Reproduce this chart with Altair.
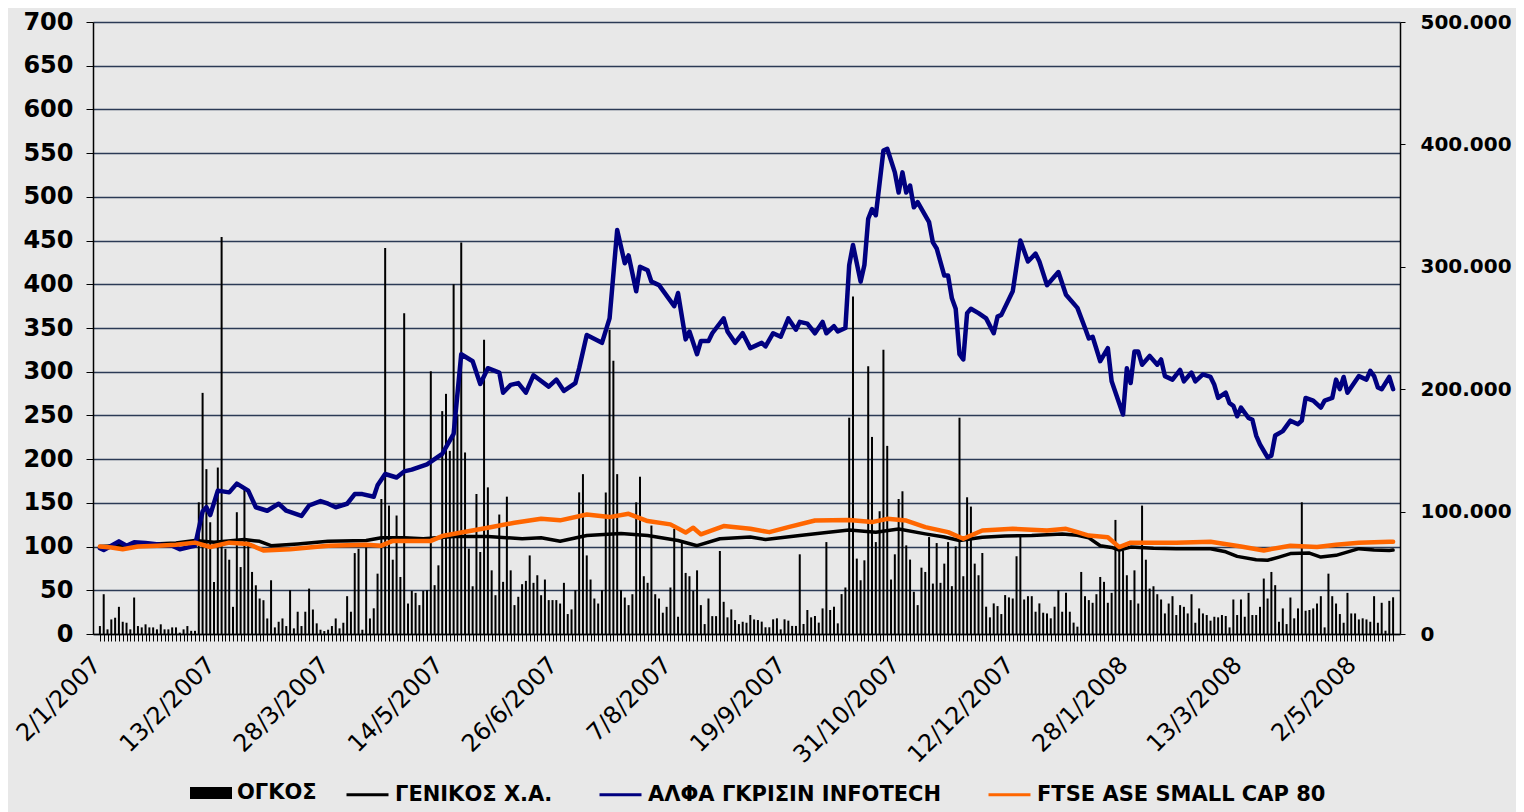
import json
import altair as alt
import pandas as pd

# ---------------- data ----------------
# daily traded volume (thousands of shares), one value per trading day
VOLUME = [
    6.5, 32.5, 3.8, 11.9, 13.3, 22.2, 10, 9.2, 3.8, 29.8, 6.5, 5.4, 7.9, 5.4, 5.4, 3.8, 7.9, 3.8, 3.8, 5.4,
    5.4, 1.1, 3.8, 6.5, 2.6, 2.6,
    107.6, 197, 134.7, 91.3, 42.5, 136, 324.4, 69.6, 60.7, 22.2, 99.5, 54.7, 119.8, 76.4, 50.7, 39.8, 29, 27.6,
    12.7, 43.9, 5.4, 10, 12.7, 6.5, 35.8, 4.6, 18.2, 6.5, 18.2, 37.1, 20, 8.7, 3.5, 2.4, 3.5, 6.5, 12.7, 4.6,
    9.2, 30.9, 18.2, 66.1, 69.6, 3.5, 71, 12.7, 21, 49.3, 110.3, 315.4, 104.9, 60.7, 96.8, 46.6, 262, 24.9,
    35.2, 33.6, 23.6, 35.2, 35.8, 214.6,
    39.9, 56.1, 182.1, 196.2, 149.6, 285.7, 179.4, 319.8, 148.3, 69.7, 39, 114.4, 67, 240.4, 119.8, 52, 31.7,
    97.6, 42.6, 112.2, 52, 23.6, 30.4, 40.7, 43.4, 64.2, 41.8, 48, 31.7, 44.5, 27.7, 27.7, 27.7, 24.9, 41.8,
    16.3, 20.1, 35.8, 115.7, 130.6, 64.2, 44.5, 29, 24.9, 35.8, 115.7, 248.5, 223.3, 130.6, 35.8, 29.8, 23.6,
    32.5, 107.6, 128.5, 47.2, 41.8, 88.6, 32.5, 29, 17.4, 22.2, 38, 85.9, 14.1, 74.3, 49.9, 47.2, 35.2, 52,
    23.6, 8.1, 29, 14.6, 14.6, 67.8, 26.3, 13.6, 20.1, 11.4, 8.1, 10, 9.2, 15.5, 11.9,
    11.4, 10.1, 5.5, 5.5, 12, 12.8, 3.8, 12, 10.9, 6.6, 6.6, 65.1, 8.2, 19.6, 13.6, 14.7, 9.3, 20.9, 75.1,
    19.6, 22.3, 8.7, 32.6, 38, 176.7, 275.7, 61.6, 43.9, 60.2, 218.7, 161, 75.1, 100.3, 232.3, 153.7, 44.5,
    65.1, 110.3, 116.6, 72.4, 60.8, 34.5, 23.6, 54.2, 50.7, 79.2, 41.2, 74.3, 41.8, 57.5, 75.1, 39.1, 71.6,
    176.7, 47.2, 111.7, 104.1, 57.5, 48, 66.2, 22.3, 13.6, 25, 22.8, 16.3, 31.8, 29.9, 29, 63.5, 80.5, 28.2,
    30.9, 30.9, 18.2, 25, 17.4, 16.8, 12.8, 22.3, 35.8, 18.2, 33.7, 18.2, 9.3, 6, 50.7, 30.9,
    27.7, 25.5, 32.5, 46.6, 42.6, 25.5, 33.6, 93.2, 69.7, 68.3, 48, 27.7, 52, 24.9, 104.9, 60.7, 37.1, 39,
    32.5, 28.2, 16.8, 24.9, 30.9, 15.5, 23.6, 22.2, 16.8, 32.5, 9.2, 20.9, 16.8, 15.5, 10.9, 14.1, 13.6, 15.5,
    14.7, 5.4, 28.2, 15.5, 28.2, 14.1, 33.6, 15.5, 15.5, 22.2, 45.3, 29, 50.7, 39.9, 10, 20.9, 8.1, 29.8,
    12.8, 20.9, 107.6, 19, 19.6, 20.9, 24.9, 30.9, 5.4, 49.3, 30.9, 24.9, 16.3, 9.2, 33.6, 16.8, 16.8, 11.9,
    12.8, 11.9, 10, 30.9, 9.2, 25.5, 2.7, 27.1, 30,
]

# category labels shown every 30 trading days
TICK_LABELS = ["2/1/2007", "13/2/2007", "28/3/2007", "14/5/2007", "26/6/2007", "7/8/2007",
               "19/9/2007", "31/10/2007", "12/12/2007", "28/1/2008", "13/3/2008", "2/5/2008"]
TICK_EVERY = 30

# (trading-day index, value)
GENIKOS_POINTS = [
    (0, 100), (10, 102), (20, 104), (25, 107), (30, 105), (38, 108), (42, 106), (45, 101), (52, 103),
    (60, 106), (70, 107), (74, 110), (80, 110), (85, 109), (93, 111.5), (102, 111.5), (111, 109), (116, 110),
    (121, 106), (128, 112.7), (137, 115), (144, 112.7), (152, 107), (157, 101), (163, 109), (171, 111),
    (175, 108), (184, 112.7), (191, 116), (197, 119), (204, 116.5), (210, 120), (217, 114.5), (222, 111),
    (226, 107), (232, 110.7), (238, 112), (245, 112.7), (253, 114.5), (257, 113), (260, 110), (263, 101),
    (266, 99), (268, 96), (271, 99.4), (277, 98), (283, 97.6), (292, 97.6), (296, 94), (299, 88.8),
    (304, 85), (307, 84.3), (310, 88), (313, 92), (318, 92.6), (321, 88), (325, 90), (331, 97.6),
    (335, 96), (339, 95.6), (340, 96),
]

ALFA_POINTS = [
    (0, 98), (1, 96), (3, 101), (5, 106), (7, 101), (9, 105), (12, 104), (16, 102), (19, 101), (21, 97),
    (24, 100), (25, 101), (27, 140), (28, 145), (29, 136), (31, 164), (34, 162), (36, 172), (39, 164),
    (41, 145), (44, 141), (47, 149), (49, 141), (53, 135), (55, 147), (58, 152), (60, 149), (62, 145),
    (65, 149), (67, 160), (69, 160), (72, 157), (73, 170), (75, 183), (78, 179), (80, 186), (82, 188),
    (86, 194), (88, 200), (90, 206), (93, 229), (95, 320), (98, 312), (100, 286), (102, 304), (105, 299),
    (106, 276), (108, 285), (110, 287), (112, 276), (114, 296), (118, 283), (120, 291), (122, 278),
    (125, 287), (126, 304), (128, 342), (132, 333), (134, 361), (136, 462), (138, 424), (139, 433),
    (141, 392), (142, 420), (144, 416), (145, 403), (147, 399), (151, 375), (152, 390), (154, 337),
    (155, 346), (157, 320), (158, 335), (160, 335), (161, 344), (164, 361), (165, 346), (167, 333),
    (169, 344), (171, 327), (174, 333), (175, 329), (177, 344), (179, 340), (181, 361), (183, 348),
    (184, 357), (186, 355), (188, 344), (190, 357), (191, 344), (193, 352), (194, 346), (196, 350),
    (197, 422), (198, 445), (200, 403), (201, 422), (202, 475), (203, 486), (204, 479), (206, 553),
    (207, 555), (209, 528), (210, 505), (211, 528), (212, 505), (213, 513), (214, 488), (215, 494),
    (218, 471), (219, 448), (220, 441), (222, 410), (223, 410), (224, 384), (225, 372), (226, 320),
    (227, 314), (228, 367), (229, 372), (231, 367), (233, 361), (235, 344), (236, 363), (237, 365),
    (240, 392), (242, 450), (244, 426), (246, 435), (247, 426), (249, 399), (252, 414), (254, 388),
    (257, 373), (259, 350), (260, 338), (261, 340), (263, 312), (265, 327), (266, 289), (269, 251),
    (270, 304), (271, 287), (272, 323), (273, 323), (274, 308), (276, 318), (278, 308), (279, 314),
    (280, 295), (282, 291), (284, 302), (285, 289), (287, 299), (288, 289), (290, 297), (292, 294),
    (293, 285), (294, 270), (296, 276), (297, 264), (298, 261), (299, 249), (300, 259), (302, 247),
    (303, 245), (304, 227), (305, 217), (307, 202), (308, 204), (309, 227), (311, 232), (313, 244),
    (315, 240), (316, 244), (317, 270), (319, 267), (321, 259), (322, 267), (324, 270), (325, 291),
    (326, 280), (327, 294), (328, 276), (331, 295), (333, 291), (334, 301), (335, 295), (336, 282),
    (337, 280), (339, 294), (340, 280),
]

FTSE_POINTS = [
    (0, 100), (3, 99), (6, 97), (10, 100), (15, 101), (20, 102), (25, 104.5), (29, 99.5), (34, 104.5),
    (39, 103), (43, 95.5), (50, 97), (60, 101), (70, 102), (74, 101), (77, 106.5), (87, 106.5), (90, 112),
    (95, 116), (102, 121.6), (109, 127.3), (116, 131.8), (121, 130), (128, 136.7), (134, 133.7),
    (139, 137.5), (144, 129.2), (150, 125.4), (154, 116), (156, 121.6), (158, 114), (164, 123.5),
    (171, 120.3), (176, 116.5), (181, 122.2), (188, 129.8), (197, 130.5), (203, 128), (207, 131.7),
    (212, 129.8), (217, 122.2), (223, 116.5), (227, 109), (232, 118.4), (240, 120.3), (249, 118.4),
    (254, 120.3), (257, 116.5), (260, 112.6), (265, 110.7), (268, 99.4), (271, 104.5), (283, 104.5),
    (292, 105.6), (300, 100), (306, 95.6), (313, 101), (320, 99.4), (325, 102), (331, 104.5),
    (339, 105.6), (340, 105.6),
]

VOLUME_NAME = "ΟΓΚΟΣ"
SERIES = ["ΓΕΝΙΚΟΣ Χ.Α.", "ΑΛΦΑ ΓΚΡΙΣΙΝ INFOTECH", "FTSE ASE SMALL CAP 80"]
COLORS = ["#000000", "#000080", "#FF6600"]
LINE_WIDTHS = [3.5, 4.5, 4.5]

LEFT_TICKS = list(range(0, 701, 50))
RIGHT_TICKS = [0, 100, 200, 300, 400, 500]

# ---------------- frames ----------------
vol_df = pd.DataFrame({"i": list(range(len(VOLUME))), "v": VOLUME, "k": VOLUME_NAME})
rows = []
for name, pts in zip(SERIES, [GENIKOS_POINTS, ALFA_POINTS, FTSE_POINTS]):
    for i, val in pts:
        rows.append({"i": i, "val": val, "series": name})
line_df = pd.DataFrame(rows)

FONT = "DejaVu Sans"
GRID = "#2b3a55"
N = len(VOLUME)

label_expr = ("datum.value % " + str(TICK_EVERY) + " == 0 ? " + json.dumps(TICK_LABELS, ensure_ascii=False)
              + "[datum.value / " + str(TICK_EVERY) + "] : ''")

x_enc = alt.X(
    "i:Q",
    scale=alt.Scale(domain=[-0.5, N - 0.5], nice=False, zero=False),
    axis=alt.Axis(
        values=list(range(N)), labelExpr=label_expr, labelAngle=-45, labelAlign="right",
        labelBaseline="middle", labelFont=FONT, labelFontSize=24, labelColor="black",
        labelOverlap=False, labelBound=False, labelFlush=False, labelPadding=20, labelOffset=-3,
        tickSize=7, tickColor="black", tickWidth=1, domainColor="black", domainWidth=1.5,
        grid=False, title=None,
    ),
    title=None,
)

bars = alt.Chart(vol_df).mark_bar(size=2).encode(
    x=x_enc,
    y=alt.Y(
        "v:Q",
        scale=alt.Scale(domain=[0, 500], nice=False, zero=True),
        axis=alt.Axis(
            orient="right", values=RIGHT_TICKS,
            labelExpr="datum.value == 0 ? '0' : datum.value + '.000'",
            labelFont=FONT, labelFontSize=20, labelFontWeight="bold", labelColor="black",
            labelPadding=15, tickSize=5, tickColor="black", domainColor="black", domainWidth=1.5,
            grid=False, title=None,
        ),
        title=None,
    ),
    fill=alt.Fill(
        "k:N",
        scale=alt.Scale(domain=[VOLUME_NAME], range=["#000000"]),
        legend=alt.Legend(
            orient="none", legendX=97, legendY=750, title=None, padding=0,
            symbolType="M-1,-0.29H1V0.29H-1Z", symbolSize=1764, symbolStrokeWidth=0,
            labelFont=FONT, labelFontSize=21, labelFontWeight="bold", labelColor="black",
            labelOffset=5, labelLimit=600,
        ),
    ),
)

stroke_scale = alt.Scale(domain=SERIES, range=COLORS)
stroke_legend = alt.Legend(
    orient="none", legendX=252, legendY=750, title=None, padding=0, direction="horizontal",
    symbolType="stroke", symbolSize=1764, symbolStrokeWidth=3,
    labelFont=FONT, labelFontSize=21, labelFontWeight="bold", labelColor="black",
    labelOffset=5, columnPadding=40, labelLimit=600,
)
y_left = alt.Y(
    "val:Q",
    scale=alt.Scale(domain=[0, 700], nice=False, zero=True),
    axis=alt.Axis(
        orient="left", values=LEFT_TICKS, labelFont=FONT, labelFontSize=24, labelFontWeight="bold",
        labelColor="black", labelPadding=13, tickSize=7, tickColor="black", domainColor="black",
        domainWidth=1.5, grid=True, gridColor=GRID, gridWidth=1.3, title=None,
    ),
    title=None,
)

line_layers = []
for name, w in zip(SERIES, LINE_WIDTHS):
    line_layers.append(
        alt.Chart(line_df).transform_filter(alt.datum.series == name)
        .mark_line(strokeWidth=w, strokeJoin="round", strokeCap="round")
        .encode(
            x=x_enc,
            y=y_left,
            stroke=alt.Stroke("series:N", scale=stroke_scale, legend=stroke_legend),
            order=alt.Order("i:Q"),
        )
    )
lines = alt.layer(*line_layers)

chart = (
    alt.layer(bars, lines)
    .resolve_scale(y="independent")
    .properties(
        width=1307, height=612,
        padding={"left": 85, "top": 14, "right": 116, "bottom": 178},
        autosize=alt.AutoSizeParams(type="none"),
        background="#e8e8e8",
    )
    .configure_view(stroke=None)
)

chart.save("out.html", embed_options={"renderer": "svg", "actions": False})
